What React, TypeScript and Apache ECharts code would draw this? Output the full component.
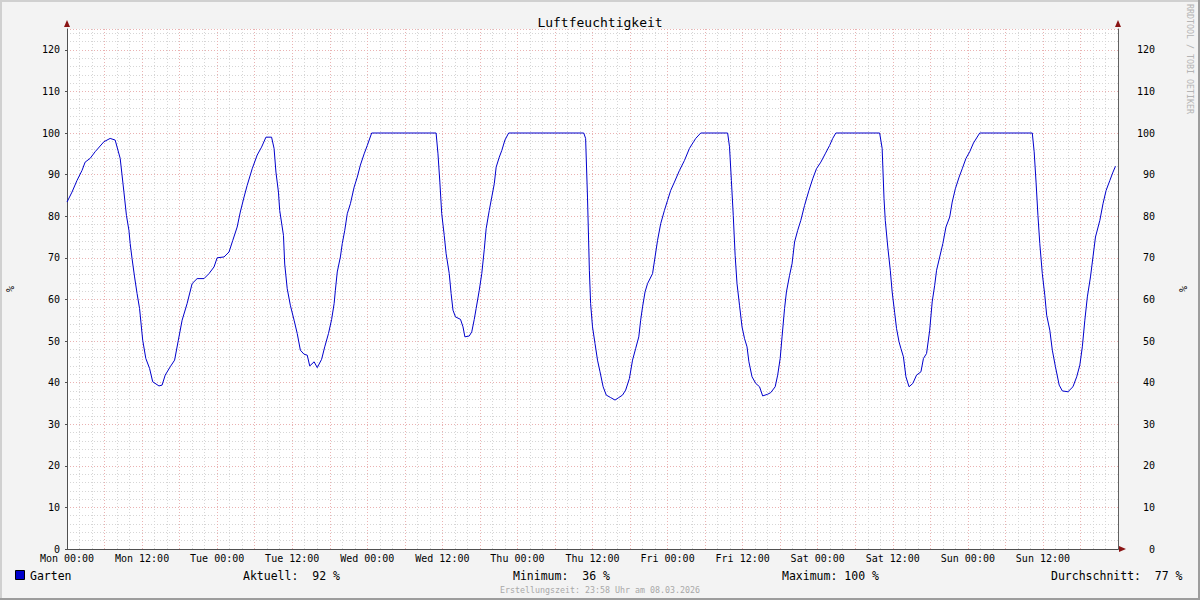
import React, { useEffect, useRef } from "react";
import * as echarts from "echarts";

const chartTitle = "Luftfeuchtigkeit";
const dayNames = ["Mon", "Tue", "Wed", "Thu", "Fri", "Sat", "Sun"];
const seriesName = "Garten";
const unit = "%";

// hours since Mon 00:00
const hours = [
  0, 0.8, 1.6, 2.4, 2.9, 3.7, 4.5, 5.9, 6.9, 7.7, 8.5, 9.1, 9.5, 9.9, 10.1, 10.4, 10.8, 11.2, 11.6, 12.1,
  12.6, 13.2, 13.7, 14.7, 15.2, 15.7, 16.5, 17.2, 17.8, 18.4, 19.2, 20, 20.8, 21.9, 22.7, 23.5, 24, 25.1,
  25.9, 26.5, 27.2, 27.7, 28.3, 28.8, 29.6, 30.4, 31.1, 31.8, 32.7, 33.1, 33.4, 33.8, 34, 34.6, 34.8, 35.2,
  35.7, 36.3, 36.8, 37.3, 37.9, 38.4, 38.8, 39.5, 40, 40.7, 41.2, 41.8, 42.3, 42.7, 42.9, 43.2, 43.7, 44,
  44.4, 44.8, 45.3, 45.9, 46.4, 46.9, 47.5, 48, 48.7, 59, 59.3, 59.6, 59.9, 60.3, 60.6, 61.1, 61.4, 61.7,
  62.1, 62.9, 63.3, 63.6, 64.3, 64.7, 65.1, 65.4, 65.9, 66.3, 66.7, 67, 67.5, 67.9, 68.3, 68.6, 69.1, 69.5,
  70, 70.6, 82.6, 82.9, 83.2, 83.5, 83.7, 84, 84.4, 84.8, 85.2, 85.7, 86.2, 86.9, 87.6, 88.2, 88.8, 89.3,
  89.9, 90.4, 90.9, 91.4, 91.7, 92, 92.4, 92.8, 93.6, 94, 94.4, 94.9, 95.5, 96, 96.5, 97.1, 97.9, 98.7,
  99.5, 100.2, 100.5, 101.3, 105.6, 105.9, 106.2, 106.5, 106.8, 107.1, 107.5, 107.9, 108.3, 108.7, 109,
  109.5, 110.1, 110.7, 111.2, 112, 112.5, 113.2, 113.6, 114, 114.3, 114.7, 115, 115.5, 115.9, 116.3, 116.8,
  117.3, 117.9, 118.6, 119.2, 119.8, 120.5, 121.2, 121.9, 122.4, 122.9, 129.9, 130.3, 130.6, 130.8, 131.2,
  131.6, 131.9, 132.3, 132.6, 133, 133.3, 133.7, 134.1, 134.6, 135.2, 135.8, 136.5, 136.9, 137.4, 137.9,
  138.3, 138.7, 139, 139.5, 140, 140.5, 141.1, 141.5, 142, 142.6, 143.1, 143.7, 144.3, 144.9, 145.9, 154.3,
  154.6, 154.9, 155.2, 155.5, 155.9, 156.3, 156.6, 157.1, 157.5, 158, 158.6, 159.1, 160, 160.8, 161.4,
  161.9, 162.3, 162.7, 163.1, 163.6, 164, 164.4, 165.1, 165.6, 166.1, 166.7, 167.2, 167.6,
];

const humidity = [
  83.4, 85.8, 88.6, 91, 93, 93.9, 95.5, 97.9, 98.7, 98.3, 93.9, 85.8, 80.2, 76.6, 73.4, 69.8, 65.4, 61.4, 57.8, 50.2,
  45.8, 43.4, 40.2, 39.2, 39.4, 41.8, 43.8, 45.4, 50.2, 55, 59, 63.8, 65, 65, 66.2, 67.8, 70, 70.2,
  71.4, 74.2, 77.4, 81, 84.6, 87.4, 91.4, 94.7, 96.6, 99, 99, 96.3, 90.6, 85.8, 81.4, 75.4, 68.5, 62.6,
  58.6, 55, 51.8, 47.8, 46.8, 46.6, 44, 45, 43.6, 45.6, 48.6, 51.8, 55.2, 59, 62.2, 66.6, 70.2, 73.4,
  76.6, 80.6, 83, 87, 89.4, 92.3, 95, 97, 100, 100, 95, 88.2, 80.6, 75.4, 71, 66.2, 61.4, 57.4,
  55.8, 55.2, 53.4, 51, 51.2, 52.2, 55.2, 57.8, 62.2, 66.2, 72, 77, 81.4, 84.6, 87.8, 91.8, 94.2, 95.8,
  98.3, 100, 100, 98.7, 84.6, 67, 59, 53.4, 49.4, 45.4, 42.6, 39, 37, 36.4, 35.8, 36.4, 37, 38.2,
  41, 45.4, 48.2, 51, 55, 58.2, 61.8, 63.8, 66.2, 70.2, 74.2, 78.2, 81.4, 83.8, 86.2, 88.2, 91, 93.4,
  96.3, 98, 98.7, 100, 100, 96.7, 88.6, 80.2, 70.6, 63.8, 58.6, 53.4, 50.6, 48.6, 45,
  41.4, 39.8, 39, 36.8, 37.2, 37.6, 39, 41.8, 45.8, 51, 57.8, 61.8, 65.8, 68.6, 73.8, 76.6,
  79, 82.6, 86.2, 89, 91.4, 93, 95, 97, 98.7, 100, 100, 96.3, 84.2, 79, 72.6,
  67, 61.8, 56.8, 53, 49.8, 48.2, 46.2, 41.4, 39, 39.8, 41.8, 42.6, 45.8, 47, 52.6,
  59.4, 63.4, 67, 70.2, 73.4, 77.4, 79.8, 83.4, 86.6, 89.4, 91.4, 93.9, 95.5, 97.6, 100, 100,
  95.5, 88.2, 80.2, 73.4, 66.2, 61, 56.2, 52.6, 47.8, 43.8, 39.4, 38, 37.8, 39, 41.4,
  44.2, 48.6, 55, 60.6, 65.4, 70.2, 75, 79, 83, 86.2, 88.6, 90.6, 92,
];

const statLabels = ["Aktuell:", "Minimum:", "Maximum:", "Durchschnitt:"];
const statValues = [92, 36, 100, 77];
const footerText = "Erstellungszeit: 23:58 Uhr am 08.03.2026";
const watermark = "RRDTOOL / TOBI OETIKER";

const MONO = '"DejaVu Sans Mono", monospace';

export default function App() {
  const ref = useRef<HTMLDivElement>(null);

  useEffect(() => {
    if (!ref.current) return;
    const chart = echarts.init(ref.current, undefined, { renderer: "svg" });
    const data = hours.map((h, i) => [h, humidity[i]]);
    const fmt = (label: string, v: number) => `${label} ${String(v).padStart(3, " ")} %`;
    const statX = [243, 513, 782, 1051];

    const txt = (x: number, y: number, text: string, size: number, fill: string, align = "left", extra: any = {}) => ({
      type: "text",
      x,
      y,
      ...extra,
      style: {
        text,
        fill,
        font: `${size}px ${MONO}`,
        align,
        textAlign: align,
        verticalAlign: "middle",
        textVerticalAlign: "middle",
      },
      silent: true,
    });

    const arrowColor = "#8a1414";
    const majorGrid = { show: true, lineStyle: { color: "#eab2b2", width: 1, type: [1, 2] } };
    const minorGrid = { show: true, lineStyle: { color: "#d6d6d6", width: 1, type: [1, 2] } };

    const option: any = {
      animation: false,
      backgroundColor: "#f3f3f3",
      title: {
        text: chartTitle,
        left: "center",
        top: 11,
        textStyle: { fontFamily: MONO, fontSize: 13, fontWeight: "normal", color: "#000" },
      },
      grid: {
        left: 67,
        right: 82,
        top: 29,
        bottom: 51,
        show: true,
        backgroundColor: "#ffffff",
        borderWidth: 0,
        containLabel: false,
        outerBoundsMode: "none",
      },
      xAxis: {
        type: "value",
        min: 0,
        max: 168,
        interval: 6,
        axisLine: { show: true, onZero: false, lineStyle: { color: "#505050", width: 1 } },
        axisTick: { show: false },
        axisLabel: {
          color: "#000",
          fontFamily: MONO,
          fontSize: 10,
          margin: 4,
          formatter: (v: number) => {
            if (v % 12 !== 0 || v >= 168) return "";
            return `${dayNames[Math.floor(v / 24)]} ${v % 24 === 0 ? "00:00" : "12:00"}`;
          },
        },
        splitLine: majorGrid,
        minorTick: { show: false, splitNumber: 3 },
        minorSplitLine: minorGrid,
      },
      yAxis: [
        {
          type: "value",
          position: "left",
          min: 0,
          max: 125,
          interval: 10,
          name: unit,
          nameLocation: "middle",
          nameGap: 52,
          nameRotate: 90,
          nameTextStyle: { fontFamily: MONO, fontSize: 10, color: "#000" },
          axisLine: { show: true, lineStyle: { color: "#505050", width: 1 } },
          axisTick: { show: true, length: 2, lineStyle: { color: "#505050" } },
          axisLabel: { color: "#000", fontFamily: MONO, fontSize: 10, margin: 7, showMaxLabel: false },
          splitLine: majorGrid,
          minorTick: { show: false, splitNumber: 5 },
          minorSplitLine: minorGrid,
        },
        {
          type: "value",
          position: "right",
          min: 0,
          max: 125,
          interval: 10,
          name: unit,
          nameLocation: "middle",
          nameGap: 60,
          nameRotate: 90,
          nameTextStyle: { fontFamily: MONO, fontSize: 10, color: "#000" },
          axisLine: { show: true, lineStyle: { color: "#606060", width: 1 } },
          axisTick: { show: false },
          axisLabel: { color: "#000", fontFamily: MONO, fontSize: 10, margin: 37, align: "right", showMaxLabel: false },
          splitLine: { show: false },
        },
      ],
      series: [
        {
          name: seriesName,
          type: "line",
          data,
          showSymbol: false,
          symbol: "none",
          lineStyle: { color: "#0000cc", width: 1 },
          itemStyle: { color: "#0000cc" },
          z: 5,
        },
      ],
      graphic: [
        // frame
        { type: "line", shape: { x1: 0, y1: 1, x2: 1200, y2: 1 }, style: { stroke: "#d0d0d0", lineWidth: 2 }, silent: true },
        { type: "line", shape: { x1: 1, y1: 0, x2: 1, y2: 600 }, style: { stroke: "#d0d0d0", lineWidth: 2 }, silent: true },
        { type: "line", shape: { x1: 0, y1: 599, x2: 1200, y2: 599 }, style: { stroke: "#9c9c9c", lineWidth: 2 }, silent: true },
        { type: "line", shape: { x1: 1199, y1: 0, x2: 1199, y2: 600 }, style: { stroke: "#9c9c9c", lineWidth: 2 }, silent: true },
        // axis arrows
        { type: "polygon", shape: { points: [[64, 27], [70, 27], [67, 20]] }, style: { fill: arrowColor }, z: 100, silent: true },
        { type: "polygon", shape: { points: [[1115, 27], [1121, 27], [1118, 20]] }, style: { fill: arrowColor }, z: 100, silent: true },
        { type: "line", shape: { x1: 1118, y1: 549, x2: 1120, y2: 549 }, style: { stroke: "#505050", lineWidth: 1 }, z: 100, silent: true },
        { type: "polygon", shape: { points: [[1119, 546], [1119, 552], [1126, 549]] }, style: { fill: arrowColor }, z: 100, silent: true },
        // legend
        { type: "rect", shape: { x: 15.5, y: 570.5, width: 9, height: 9 }, style: { fill: "#0000cc", stroke: "#000", lineWidth: 1 }, silent: true },
        txt(30, 575.5, seriesName, 11.5, "#000"),
        ...statLabels.map((l, i) => txt(statX[i], 575.5, fmt(l, statValues[i]), 11.5, "#000")),
        txt(600, 589.5, footerText, 8.3, "#a8a8a8", "center"),
        txt(1190, 4, watermark, 8.3, "#b4b4b4", "left", { rotation: -Math.PI / 2 }),
      ],
    };

    chart.setOption(option);
    return () => chart.dispose();
  }, []);

  return (
    <div
      ref={ref}
      style={{ position: "absolute", left: 0, top: 0, width: 1200, height: 600 }}
    />
  );
}
